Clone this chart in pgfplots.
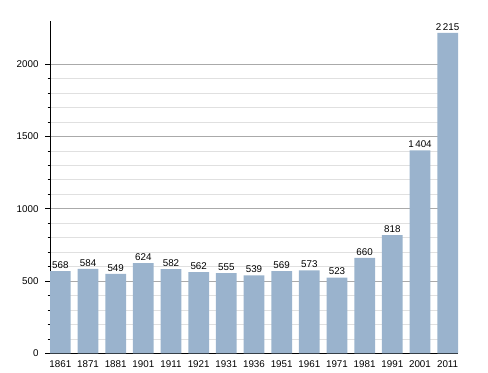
\documentclass[border=0pt]{standalone}
\usepackage{fontspec}
\setmainfont{Liberation Sans}
\usepackage{pgfplots}
\pgfplotsset{compat=1.18}
\definecolor{barcol}{RGB}{154,179,205}
\definecolor{majgrid}{RGB}{170,170,170}
\definecolor{mingrid}{RGB}{224,224,224}
\begin{document}
\begin{tikzpicture}
\useasboundingbox (0,0) rectangle (488bp,373bp);
\begin{axis}[
  at={(50bp,19.7bp)}, anchor=south west,
  scale only axis, width=408bp, height=332.6bp,
  xmin=-0.375, xmax=14.375, ymin=0, ymax=2300,
  axis x line*=bottom, axis y line*=left,
  axis line style={black, line width=0.8pt, -},
  xtick=data,
  xticklabels={1861,1871,1881,1901,1911,1921,1931,1936,1951,1961,1971,1981,1991,2001,2011},
  xtick style={draw=none},
  ytick={0,500,1000,1500,2000},
  minor y tick num=4,
  tick align=outside,
  major tick length=5bp, minor tick length=2.5bp,
  y tick style={black, line width=0.6pt},
  ymajorgrids, yminorgrids,
  major grid style={majgrid, line width=0.6pt},
  minor grid style={mingrid, line width=0.6pt},
  tick label style={font=\fontsize{9.8bp}{11bp}\selectfont},
  /pgf/number format/assume math mode=true,
  /pgf/number format/1000 sep={},
  x tick label style={yshift=1bp},
  y tick label style={xshift=-3bp},
  ytick pos=left,
  enlargelimits=false,
  clip=false,
]
\addplot[ybar, bar width=0.75, fill=barcol, draw=none,
  point meta=explicit symbolic,
  nodes near coords,
  every node near coord/.style={font=\fontsize{9.8bp}{11bp}\selectfont, black, inner sep=1.5bp, yshift=1bp}]
coordinates {
(0,568) [568]
(1,584) [584]
(2,549) [549]
(3,624) [624]
(4,582) [582]
(5,562) [562]
(6,555) [555]
(7,539) [539]
(8,569) [569]
(9,573) [573]
(10,523) [523]
(11,660) [660]
(12,818) [818]
(13,1404) [1\,404]
(14,2215) [2\,215]
};
\end{axis}
\end{tikzpicture}
\end{document}
